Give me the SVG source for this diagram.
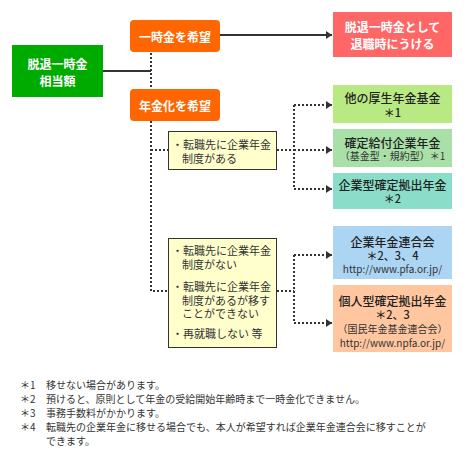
<svg xmlns="http://www.w3.org/2000/svg" width="474" height="460" viewBox="0 0 474 460">
<defs>
<style>
text{font-family:"Noto Sans CJK JP","Noto Sans",sans-serif;text-anchor:middle;dominant-baseline:central}
.w{fill:#fff;font-size:12px;font-weight:bold}
.t{fill:#222;font-size:12px;font-weight:500}
.a{fill:#222;font-size:11px;font-weight:500}
.s{fill:#333;font-size:10px}
.y{fill:#333;font-size:11px;text-anchor:start}
.f{fill:#333;font-size:10px;text-anchor:start}
.solid{stroke:#333;stroke-width:2;fill:none}
.dot{stroke:#333;stroke-width:2;fill:none;stroke-dasharray:2 2}
.yb{fill:#ffffcc;stroke:#333;stroke-width:1}
</style>
<marker id="ah" viewBox="0 0 6 8" refX="6" refY="4" markerWidth="6" markerHeight="8" markerUnits="userSpaceOnUse" orient="auto">
<path d="M0,0L6,4L0,8Z" fill="#333"/>
</marker>
</defs>
<g id="connectors">
<path class="solid" d="M103,71H151"/>
<path class="solid" d="M220,35H332" marker-end="url(#ah)"/>
<path class="dot" d="M151,53V89"/>
<path class="dot" d="M151,121V291H168"/>
<path class="dot" d="M151,150H168"/>
<path class="dot" d="M277,150H294"/>
<path class="dot" d="M294,105V189"/>
<path class="dot" d="M294,105H332" marker-end="url(#ah)"/>
<path class="dot" d="M294,150H332" marker-end="url(#ah)"/>
<path class="dot" d="M294,189H332" marker-end="url(#ah)"/>
<path class="dot" d="M277,291H294"/>
<path class="dot" d="M294,255V323"/>
<path class="dot" d="M294,255H332" marker-end="url(#ah)"/>
<path class="dot" d="M294,323H332" marker-end="url(#ah)"/>
</g>
<g id="start">
<rect x="12" y="45" width="91" height="52" fill="#00ab00"/>
<text class="w" x="57.5" y="63">脱退一時金</text>
<text class="w" x="57.5" y="80">相当額</text>
</g>
<g id="lump">
<rect x="130" y="20" width="90" height="32" rx="4" fill="#ff6600"/>
<text class="w" x="175" y="36">一時金を希望</text>
</g>
<g id="annuity">
<rect x="130" y="89" width="90" height="32" rx="4" fill="#ff6600"/>
<text class="w" x="175" y="105">年金化を希望</text>
</g>
<g id="retire">
<rect x="333" y="12" width="119" height="45" fill="#ff6666"/>
<text class="w" x="392.5" y="26">脱退一時金として</text>
<text class="w" x="392.5" y="43">退職時にうける</text>
</g>
<g id="cond1">
<rect class="yb" x="168.5" y="131.5" width="108" height="38"/>
<text class="y" x="172" y="144">・転職先に企業年金</text>
<text class="y" x="182" y="158">制度がある</text>
</g>
<g id="cond2">
<rect class="yb" x="168.5" y="238.5" width="108" height="109"/>
<text class="y" x="172" y="250">・転職先に企業年金</text>
<text class="y" x="182" y="264">制度がない</text>
<text class="y" x="172" y="286">・転職先に企業年金</text>
<text class="y" x="182" y="300">制度があるが移す</text>
<text class="y" x="182" y="313">ことができない</text>
<text class="y" x="172" y="333">・再就職しない 等</text>
</g>
<g id="kikin">
<rect x="333" y="85" width="119" height="38" fill="#b9e982"/>
<text class="t" x="392.5" y="97">他の厚生年金基金</text>
<text class="a" x="392.5" y="112">＊1</text>
</g>
<g id="kakutei">
<rect x="333" y="129" width="119" height="38" fill="#a8e0a8"/>
<text class="t" x="392.5" y="142">確定給付企業年金</text>
<text class="s" x="392.5" y="155">（基金型・規約型）＊1</text>
</g>
<g id="kigyogata">
<rect x="333" y="173" width="119" height="36" fill="#8addc8"/>
<text class="t" x="392.5" y="184">企業型確定拠出年金</text>
<text class="a" x="392.5" y="198">＊2</text>
</g>
<g id="pfa">
<rect x="333" y="226" width="119" height="53" fill="#acd4f3"/>
<text class="t" x="392.5" y="241">企業年金連合会</text>
<text class="a" x="392.5" y="255">＊2、3、4</text>
<text class="s" x="392.5" y="268">http://www.pfa.or.jp/</text>
</g>
<g id="npfa">
<rect x="333" y="285" width="119" height="67" fill="#ffc6a0"/>
<text class="t" x="392.5" y="300">個人型確定拠出年金</text>
<text class="a" x="392.5" y="314">＊2、3</text>
<text class="s" x="392.5" y="328">（国民年金基金連合会）</text>
<text class="s" x="392.5" y="342">http://www.npfa.or.jp/</text>
</g>
<g id="notes">
<text class="f" x="20" y="384">＊1</text>
<text class="f" x="46" y="384">移せない場合があります。</text>
<text class="f" x="20" y="398">＊2</text>
<text class="f" x="46" y="398">預けると、原則として年金の受給開始年齢時まで一時金化できません。</text>
<text class="f" x="20" y="412">＊3</text>
<text class="f" x="46" y="412">事務手数料がかかります。</text>
<text class="f" x="20" y="426">＊4</text>
<text class="f" x="46" y="426">転職先の企業年金に移せる場合でも、本人が希望すれば企業年金連合会に移すことが</text>
<text class="f" x="46" y="440">できます。</text>
</g>
</svg>
